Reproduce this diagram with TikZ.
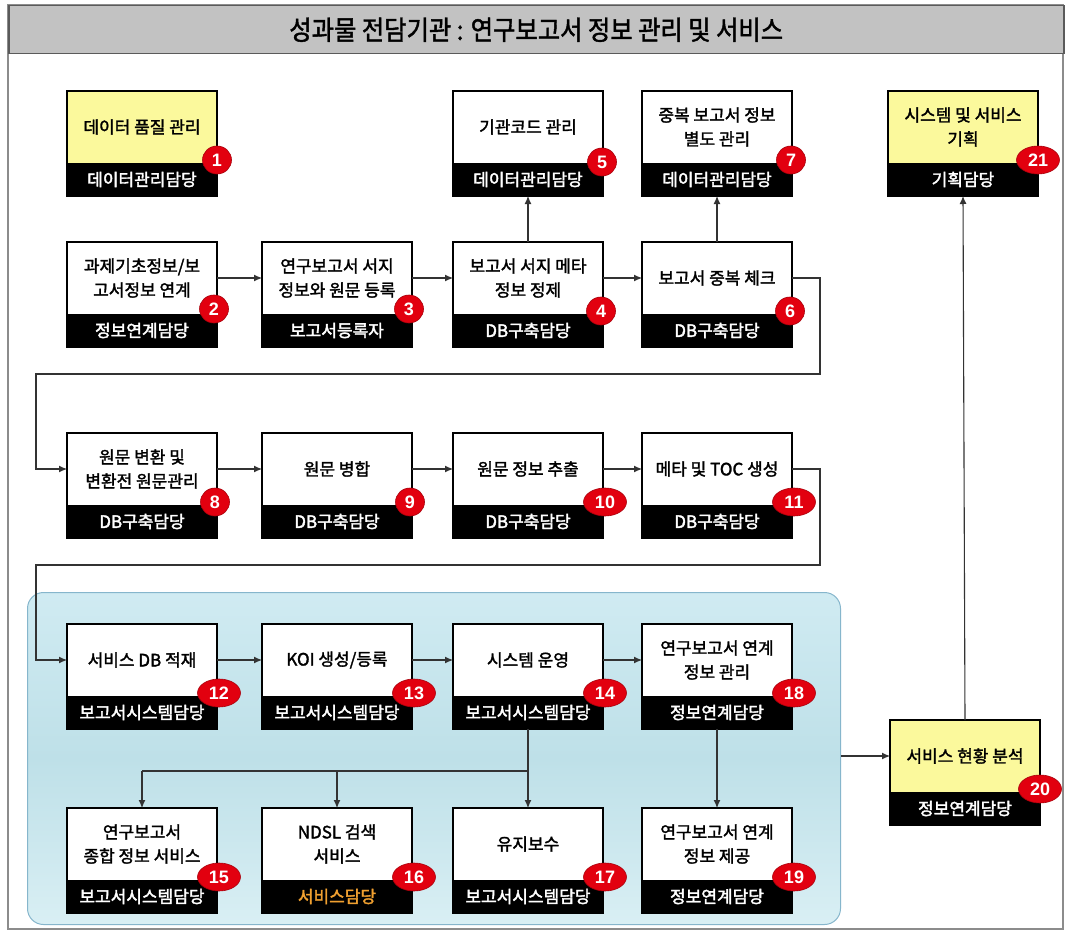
\documentclass[tikz,border=0pt]{standalone}
\usepackage{fontspec}
\usetikzlibrary{arrows.meta,calc,shapes.geometric}
\newfontfamily\kr[FakeBold=1.8]{Noto Sans CJK KR}
\newfontfamily\krb[FakeBold=2.2]{Noto Sans CJK KR}
\newfontfamily\krt[FakeBold=1.6,FakeStretch=0.9]{Noto Sans CJK KR}
\newfontfamily\numf{Liberation Sans}
\definecolor{boxyellow}{HTML}{FBF99C}
\definecolor{badgered}{HTML}{E2000F}
\definecolor{rolegold}{HTML}{F0A030}
\definecolor{bargray}{HTML}{C2C2C2}
\definecolor{bardark}{HTML}{5A5A5A}
\definecolor{framegray}{HTML}{8C8C8C}
\definecolor{conn}{HTML}{333333}
\definecolor{regtop}{HTML}{D0EBF2}
\definecolor{regmid}{HTML}{BEE0E8}
\definecolor{regbot}{HTML}{D9EFF4}
\definecolor{regline}{HTML}{86B6CC}
\tikzset{
  upper/.style={anchor=north west, minimum width=150, minimum height=72, inner sep=0, outer sep=0,
    align=center, text=black, font=\kr\fontsize{17}{24}\selectfont},
  band/.style={anchor=north, minimum width=150, minimum height=33, inner sep=0, outer sep=0,
    fill=black, font=\krb\fontsize{17}{18}\selectfont},
  frameline/.style={draw=black, line width=2.6pt},
  badge/.style={ellipse, fill=badgered, draw=badgered!75!black, line width=0.6pt, text=white,
    inner sep=0, minimum width=29, minimum height=28, font=\numf\bfseries\fontsize{18}{18}\selectfont},
  badgewide/.style={badge, minimum width=43},
  arr/.style={draw=conn, line width=1.1pt, -{Latex[length=8pt,width=7pt]}},
  plain/.style={draw=conn, line width=1.1pt},
  region/.style={anchor=north west, minimum width=813, minimum height=332, rounded corners=16pt,
    draw=regline, line width=1pt, top color=regtop, bottom color=regbot, middle color=regmid, inner sep=0},
  titlebar/.style={anchor=north west, minimum width=1055, minimum height=48, inner sep=0,
    fill=bargray, draw=bardark, line width=1.5pt, font=\krt\fontsize{27}{27}\selectfont}
}
\newcommand\procbox[8]{%
  \node[upper, fill=#4] (n#1) at (#2,#3) {#5};
  \node[band, text=#8] (b#1) at (n#1.south) {#6};
  \draw[frameline] (n#1.north west) rectangle (b#1.south east);
}
\begin{document}
\begin{tikzpicture}[x=1pt,y=-1pt]
\useasboundingbox (0,0) rectangle (1071,934);
\fill[white] (0,0) rectangle (1071,934);
% outer frame and title
\draw[framegray, line width=1.2pt] (8,5) rectangle (1063,929);
\node[titlebar] (title) at (8,5) {성과물 전담기관 : 연구보고서 정보 관리 및 서비스};
% service region
\node[region] (svc) at (27,592) {};
% row 1
\procbox{1}{67}{91}{boxyellow}{데이터 품질 관리}{데이터관리담당}{}{white}
\procbox{5}{453}{91}{white}{기관코드 관리}{데이터관리담당}{}{white}
\procbox{7}{642}{91}{white}{중복 보고서 정보\\별도 관리}{데이터관리담당}{}{white}
\procbox{21}{888}{91}{boxyellow}{시스템 및 서비스\\기획}{기획담당}{}{white}
% row 2
\procbox{2}{67}{242}{white}{과제기초정보/보\\고서정보 연계}{정보연계담당}{}{white}
\procbox{3}{262}{242}{white}{연구보고서 서지\\정보와 원문 등록}{보고서등록자}{}{white}
\procbox{4}{453}{242}{white}{보고서 서지 메타\\정보 정제}{DB구축담당}{}{white}
\procbox{6}{642}{242}{white}{보고서 중복 체크}{DB구축담당}{}{white}
% row 3
\procbox{8}{67}{433}{white}{원문 변환 및\\변환전 원문관리}{DB구축담당}{}{white}
\procbox{9}{262}{433}{white}{원문 병합}{DB구축담당}{}{white}
\procbox{10}{453}{433}{white}{원문 정보 추출}{DB구축담당}{}{white}
\procbox{11}{642}{433}{white}{메타 및 TOC 생성}{DB구축담당}{}{white}
% row 4
\procbox{12}{67}{624}{white}{서비스 DB 적재}{보고서시스템담당}{}{white}
\procbox{13}{262}{624}{white}{KOI 생성/등록}{보고서시스템담당}{}{white}
\procbox{14}{453}{624}{white}{시스템 운영}{보고서시스템담당}{}{white}
\procbox{18}{642}{624}{white}{연구보고서 연계\\정보 관리}{정보연계담당}{}{white}
% row 5
\procbox{15}{67}{808}{white}{연구보고서\\종합 정보 서비스}{보고서시스템담당}{}{white}
\procbox{16}{262}{808}{white}{NDSL 검색\\서비스}{서비스담당}{}{rolegold}
\procbox{17}{453}{808}{white}{유지보수}{보고서시스템담당}{}{white}
\procbox{19}{642}{808}{white}{연구보고서 연계\\정보 제공}{정보연계담당}{}{white}
% box 20
\procbox{20}{890}{720}{boxyellow}{서비스 현황 분석}{정보연계담당}{}{white}
% connectors
\draw[arr] (n2) -- (n3);
\draw[arr] (n3) -- (n4);
\draw[arr] (n4) -- (n6);
\draw[arr] (n4.north) -- (b5.south);
\draw[arr] (n6.north) -- (b7.south);
\coordinate (r1) at (820,374);
\coordinate (l1) at (36,374);
\draw[arr] (n6.east) -| (r1) -- (l1) |- (n8.west);
\draw[arr] (n8) -- (n9);
\draw[arr] (n9) -- (n10);
\draw[arr] (n10) -- (n11);
\coordinate (r2) at (820,565);
\coordinate (l2) at (36,565);
\draw[arr] (n11.east) -| (r2) -- (l2) |- (n12.west);
\draw[arr] (n12) -- (n13);
\draw[arr] (n13) -- (n14);
\draw[arr] (n14) -- (n18);
\coordinate (sp) at ($(b14.south)+(0,42)$);
\draw[plain] (b14.south) -- (sp);
\draw[plain] (sp -| n15.north) -- (sp);
\draw[arr] (sp -| n15.north) -- (n15.north);
\draw[arr] (sp -| n16.north) -- (n16.north);
\draw[arr] (sp) -- (n17.north);
\draw[arr] (b18.south) -- (n19.north);
\draw[arr] (svc.east |- n20.west) -- (n20.west);
\draw[arr] (n20.north) -- (b21.south);
% badges
\node[badge] (k1) at ($(n1.south east)+(0,-3)$) {1};
\node[badge] (k2) at ($(n2.south east)+(-3,-5)$) {2};
\node[badge] (k3) at ($(n3.south east)+(-3,-5)$) {3};
\node[badge] (k4) at ($(n4.south east)+(-2,-3)$) {4};
\node[badge] (k5) at ($(n5.south east)+(-1,-1)$) {5};
\node[badge] (k6) at ($(n6.south east)+(-2,-3)$) {6};
\node[badge] (k7) at ($(n7.south east)+(-1,-3)$) {7};
\node[badge] (k8) at ($(n8.south east)+(-2,-3)$) {8};
\node[badge] (k9) at ($(n9.south east)+(-2,-3)$) {9};
\node[badgewide] (k10) at ($(n10.south east)+(2,-3)$) {10};
\node[badgewide] (k11) at ($(n11.south east)+(2,-3)$) {11};
\node[badgewide] (k12) at ($(n12.south east)+(2,-3)$) {12};
\node[badgewide] (k13) at ($(n13.south east)+(2,-3)$) {13};
\node[badgewide] (k14) at ($(n14.south east)+(2,-3)$) {14};
\node[badgewide] (k18) at ($(n18.south east)+(2,-3)$) {18};
\node[badgewide] (k15) at ($(n15.south east)+(2,-3)$) {15};
\node[badgewide] (k16) at ($(n16.south east)+(2,-3)$) {16};
\node[badgewide] (k17) at ($(n17.south east)+(2,-3)$) {17};
\node[badgewide] (k19) at ($(n19.south east)+(2,-3)$) {19};
\node[badgewide] (k20) at ($(n20.south east)+(0,-3)$) {20};
\node[badgewide] (k21) at ($(n21.south east)+(0,-3)$) {21};
\end{tikzpicture}
\end{document}
